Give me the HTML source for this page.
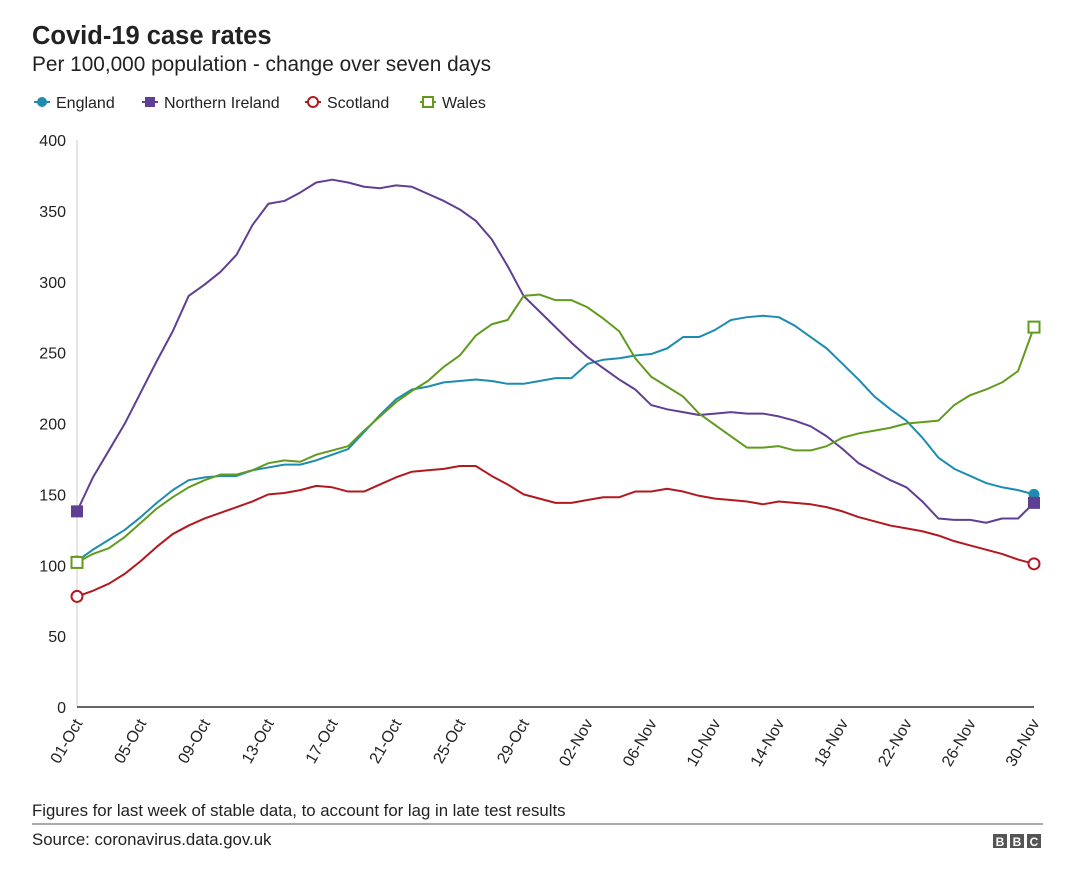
<!DOCTYPE html>
<html><head><meta charset="utf-8"><style>
body{margin:0;background:#fff;font-family:"Liberation Sans",Arial,sans-serif;}
svg text{font-family:"Liberation Sans",Arial,sans-serif;}
</style></head><body>
<svg id="c" width="1080" height="876" xmlns="http://www.w3.org/2000/svg">
<text x="32" y="44" font-size="25.5" font-weight="bold" fill="#222">Covid-19 case rates</text>
<text x="32" y="71" font-size="20.8" fill="#222">Per 100,000 population - change over seven days</text>
<g id="legend"></g>
<g id="axes"></g>
<g id="series"></g>
<text x="32" y="816" font-size="16.8" fill="#222">Figures for last week of stable data, to account for lag in late test results</text>
<line x1="32" y1="824" x2="1043" y2="824" stroke="#555" stroke-width="1"/>
<text x="32" y="845" font-size="16.8" fill="#222">Source: coronavirus.data.gov.uk</text>
<g>
<rect x="993" y="834" width="14" height="14" fill="#555"/><rect x="1010" y="834" width="14" height="14" fill="#555"/><rect x="1027" y="834" width="14" height="14" fill="#555"/>
<text x="1000" y="846" font-size="12" font-weight="bold" fill="#fff" text-anchor="middle">B</text>
<text x="1017" y="846" font-size="12" font-weight="bold" fill="#fff" text-anchor="middle">B</text>
<text x="1034" y="846" font-size="12" font-weight="bold" fill="#fff" text-anchor="middle">C</text>
</g>
</svg>
<script>
const seriesNames=["England","Northern Ireland","Scotland","Wales"];
const england=[103,111,118,125,134,144,153,160,162,163,163,167,169,171,171,174,178,182,194,206,217,224,226,229,230,231,230,228,228,230,232,232,242,245,246,248,249,253,261,261,266,273,275,276,275,269,261,253,242,231,219,210,202,190,176,168,163,158,155,153,150];
const northernIreland=[138,162,181,200,222,244,265,290,298,307,319,340,355,357,363,370,372,370,367,366,368,367,362,357,351,343,330,311,290,279,268,257,247,239,231,224,213,210,208,206,207,208,207,207,205,202,198,191,182,172,166,160,155,145,133,132,132,130,133,133,144];
const scotland=[78,82,87,94,103,113,122,128,133,137,141,145,150,151,153,156,155,152,152,157,162,166,167,168,170,170,163,157,150,147,144,144,146,148,148,152,152,154,152,149,147,146,145,143,145,144,143,141,138,134,131,128,126,124,121,117,114,111,108,104,101];
const wales=[102,108,112,120,130,140,148,155,160,164,164,167,172,174,173,178,181,184,195,205,215,223,230,240,248,262,270,273,290,291,287,287,282,274,265,246,233,226,219,207,199,191,183,183,184,181,181,184,190,193,195,197,200,201,202,213,220,224,229,237,268];
const yTicks=[0,50,100,150,200,250,300,350,400];
const xTickLabels=["01-Oct","05-Oct","09-Oct","13-Oct","17-Oct","21-Oct","25-Oct","29-Oct","02-Nov","06-Nov","10-Nov","14-Nov","18-Nov","22-Nov","26-Nov","30-Nov"];
const colors=["#1e8cb0","#5f3f93","#b2191f","#619b1e"];
const NS="http://www.w3.org/2000/svg";
const X0=77,X1=1034,Y0=707,Y1=140,N=england.length;
const x=i=>X0+(X1-X0)*i/(N-1);
const y=v=>Y0-(Y0-Y1)*v/400;
function mk(t,a,p){const e=document.createElementNS(NS,t);for(const k in a)e.setAttribute(k,a[k]);p.appendChild(e);return e;}
const axes=document.getElementById('axes');
const vl=mk('line',{x1:X0,y1:Y1,x2:X0,y2:Y0,stroke:'#ccc','stroke-width':1},axes);


yTicks.forEach(v=>{const t=mk('text',{x:66,y:y(v)+6,'font-size':16,fill:'#222','text-anchor':'end'},axes);t.textContent=v;

});
const bl=mk('line',{x1:X0,y1:Y0,x2:X1,y2:Y0,stroke:'#333','stroke-width':1.5},axes);


xTickLabels.forEach((l,k)=>{const xi=x(k*4);const t=mk('text',{x:xi+6,y:Y0+16,'font-size':16,fill:'#222','text-anchor':'end',transform:`rotate(-60 ${xi+6} ${Y0+16})`},axes);t.textContent=l;

});
const sg=document.getElementById('series');
[england,northernIreland,scotland,wales].forEach((d,s)=>{
const p=mk('polyline',{points:d.map((v,i)=>x(i)+','+y(v)).join(' '),fill:'none',stroke:colors[s],'stroke-width':2,'stroke-linejoin':'round'},sg);


[0,N-1].forEach(i=>{let m;
if(s==0)m=mk('circle',{cx:x(i),cy:y(d[i]),r:5.5,fill:colors[s]},sg);
else if(s==1)m=mk('rect',{x:x(i)-6,y:y(d[i])-6,width:12,height:12,fill:colors[s]},sg);
else if(s==2)m=mk('circle',{cx:x(i),cy:y(d[i]),r:5.5,fill:'#fff',stroke:colors[s],'stroke-width':2},sg);
else m=mk('rect',{x:x(i)-5.5,y:y(d[i])-5.5,width:11,height:11,fill:'#fff',stroke:colors[s],'stroke-width':2},sg);

});
});
const lg=document.getElementById('legend');
const lx=[34,142,305,420];
seriesNames.forEach((n,s)=>{const g=mk('g',{},lg);


const cx=lx[s]+8,cy=102;
mk('line',{x1:cx-8,y1:cy,x2:cx+8,y2:cy,stroke:colors[s],'stroke-width':2},g);
if(s==0)mk('circle',{cx,cy,r:5,fill:colors[s]},g);
else if(s==1)mk('rect',{x:cx-5,y:cy-5,width:10,height:10,fill:colors[s]},g);
else if(s==2)mk('circle',{cx,cy,r:5,fill:'#fff',stroke:colors[s],'stroke-width':2},g);
else mk('rect',{x:cx-5,y:cy-5,width:10,height:10,fill:'#fff',stroke:colors[s],'stroke-width':2},g);
const t=mk('text',{x:cx+14,y:cy+6,'font-size':16,fill:'#222'},g);t.textContent=n;});
</script>
</body></html>
